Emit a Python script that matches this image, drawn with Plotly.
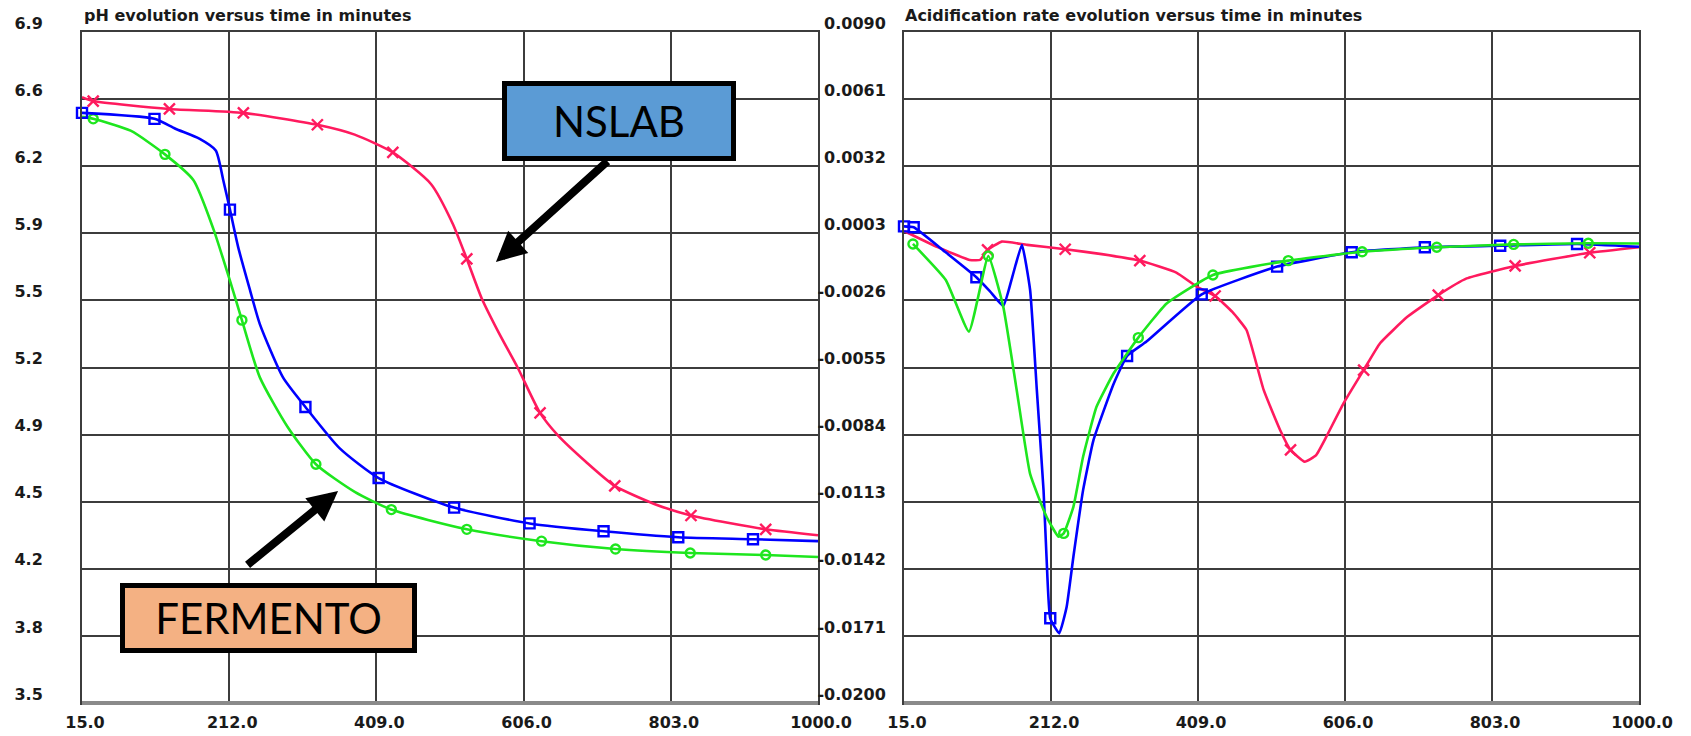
import plotly.graph_objects as go

# ---------------- data ----------------
# pH evolution (left panel)
ph_red_t = [15, 30, 132, 231, 330, 380, 431, 482, 511, 530, 550, 575, 598, 628, 651, 690, 728, 780, 830, 930, 1000]
ph_red_v = [6.57, 6.55, 6.51, 6.49, 6.43, 6.38, 6.29, 6.13, 5.93, 5.75, 5.55, 5.36, 5.20, 4.97, 4.86, 4.72, 4.60, 4.51, 4.45, 4.38, 4.35]
ph_red_mk = [30, 132, 231, 330, 431, 530, 628, 728, 830, 930]

ph_blue_t = [15, 112, 140, 172, 194, 204, 213, 224, 240, 253, 284, 314, 360, 412, 513, 614, 713, 813, 913, 1000]
ph_blue_v = [6.49, 6.46, 6.41, 6.36, 6.30, 6.15, 6.00, 5.81, 5.59, 5.42, 5.15, 5.00, 4.79, 4.64, 4.49, 4.41, 4.37, 4.34, 4.33, 4.32]
ph_blue_mk = [15, 112, 213, 314, 412, 513, 614, 713, 813, 913]

ph_green_t = [15, 30, 80, 126, 164, 191, 213, 229, 253, 290, 328, 380, 429, 530, 630, 729, 829, 930, 1000]
ph_green_v = [6.47, 6.46, 6.40, 6.28, 6.15, 5.90, 5.64, 5.44, 5.15, 4.90, 4.71, 4.57, 4.48, 4.38, 4.32, 4.28, 4.26, 4.25, 4.24]
ph_green_mk = [30, 126, 229, 328, 429, 530, 630, 729, 829, 930]

# acidification rate (right panel)
ar_red_t = [15, 60, 103, 117, 127, 146, 180, 231, 280, 331, 380, 407, 432, 455, 474, 497, 519, 533, 552, 567, 581, 604, 631, 653, 690, 731, 769, 834, 934, 1000]
ar_red_v = [0.0004, -0.0003, -0.00085, -0.00085, -0.00042, -0.00006, -0.0002, -0.00039, -0.0006, -0.00088, -0.0014, -0.0020, -0.00241, -0.0031, -0.00388, -0.00647, -0.0082, -0.00906, -0.00957, -0.0093, -0.00849, -0.00705, -0.00561, -0.00445, -0.0033, -0.00237, -0.00165, -0.00111, -0.00054, -0.0003]
ar_red_mk = [127, 231, 331, 432, 533, 631, 731, 834, 934]

ar_blue_t = [15, 28, 70, 112, 130, 148, 160, 173, 184, 193, 202, 206, 211, 223, 233, 242, 255, 269, 296, 314, 340, 414, 515, 615, 713, 814, 917, 1000]
ar_blue_v = [0.0006, 0.00056, -0.0005, -0.0016, -0.0022, -0.00284, -0.0016, -0.0002, -0.00215, -0.00647, -0.0108, -0.01368, -0.01634, -0.01699, -0.01584, -0.01368, -0.0108, -0.00863, -0.0062, -0.005, -0.00438, -0.00234, -0.00114, -0.00052, -0.0003, -0.00024, -0.00016, -0.00028]
ar_blue_mk = [15, 28, 112, 211, 314, 414, 515, 615, 713, 814, 917]

ar_green_t = [27, 71, 102, 128, 148, 166, 184, 206, 222, 229, 242, 255, 273, 296, 329, 367, 429, 530, 629, 729, 832, 932, 1000]
ar_green_v = [-0.00016, -0.00172, -0.00395, -0.00068, -0.00287, -0.00647, -0.0101, -0.01195, -0.01281, -0.01267, -0.01152, -0.00936, -0.0072, -0.00575, -0.00421, -0.00273, -0.0015, -0.00088, -0.0005, -0.0003, -0.00018, -0.00013, -0.00014]
ar_green_mk = [27, 128, 229, 329, 429, 530, 629, 729, 832, 932]

# ticks
x_ticks = [15.0, 212.0, 409.0, 606.0, 803.0, 1000.0]
x_ticktext = ["15.0", "212.0", "409.0", "606.0", "803.0", "1000.0"]
ph_ticks = [3.5, 3.84, 4.18, 4.52, 4.86, 5.2, 5.54, 5.88, 6.22, 6.56, 6.9]
ph_ticktext = ["3.5", "3.8", "4.2", "4.5", "4.9", "5.2", "5.5", "5.9", "6.2", "6.6", "6.9"]
ar_ticks = [-0.02, -0.0171, -0.0142, -0.0113, -0.0084, -0.0055, -0.0026, 0.0003, 0.0032, 0.0061, 0.009]
ar_ticktext = ["-0.0200", "-0.0171", "-0.0142", "-0.0113", "-0.0084", "-0.0055", "-0.0026", "0.0003", "0.0032", "0.0061", "0.0090"]

titles = ["pH evolution versus time in minutes", "Acidification rate evolution versus time in minutes"]
labels = ["NSLAB", "FERMENTO"]

# ---------------- styling ----------------
RED = "#FF1A5E"
BLUE = "#0000FF"
GREEN = "#1EE61E"
GRID = "#3c3c3c"
TICKFONT = dict(family="DejaVu Sans", size=16, color="#1a1a1a", weight="bold")

fig = go.Figure()


def add_series(t, v, mk, color, symbol, size, xa, ya, smooth):
    fig.add_trace(go.Scatter(
        x=t, y=v, mode="lines", xaxis=xa, yaxis=ya,
        line=dict(color=color, width=2.6, shape="spline", smoothing=smooth),
        showlegend=False, hoverinfo="skip"))
    lookup = dict(zip(t, v))
    fig.add_trace(go.Scatter(
        x=mk, y=[lookup[m] for m in mk], mode="markers", xaxis=xa, yaxis=ya,
        marker=dict(symbol=symbol, size=size, color=color,
                    line=dict(color=color, width=2.4)),
        cliponaxis=False, showlegend=False, hoverinfo="skip"))


add_series(ph_green_t, ph_green_v, ph_green_mk, GREEN, "circle-open", 9, "x", "y", 0.6)
add_series(ph_blue_t, ph_blue_v, ph_blue_mk, BLUE, "square-open", 10, "x", "y", 0.6)
add_series(ph_red_t, ph_red_v, ph_red_mk, RED, "x-thin-open", 11, "x", "y", 0.6)

add_series(ar_red_t, ar_red_v, ar_red_mk, RED, "x-thin-open", 11, "x2", "y2", 0.4)
add_series(ar_blue_t, ar_blue_v, ar_blue_mk, BLUE, "square-open", 10, "x2", "y2", 0.4)
add_series(ar_green_t, ar_green_v, ar_green_mk, GREEN, "circle-open", 9, "x2", "y2", 0.4)

W, H = 1691, 736
left_dom = [82 / W, 818 / W]
right_dom = [904 / W, 1639 / W]
y_dom = [1 - 703 / H, 1 - 32 / H]

xcommon = dict(range=[15, 1000], tickvals=x_ticks, ticktext=x_ticktext,
               showgrid=True, gridcolor=GRID, gridwidth=2,
               showline=True, linecolor=GRID, linewidth=2, mirror=True,
               ticks="", tickfont=TICKFONT, zeroline=False, automargin=False,
               ticklabelstandoff=4, ticklabelshift=3, fixedrange=True)
ycommon = dict(showgrid=True, gridcolor=GRID, gridwidth=2,
               showline=True, linecolor=GRID, linewidth=2, mirror=True,
               ticks="", tickfont=TICKFONT, zeroline=False, automargin=False,
               ticklabelshift=-9, fixedrange=True)

fig.update_layout(
    width=W, height=H,
    margin=dict(l=0, r=0, t=0, b=0, autoexpand=False),
    paper_bgcolor="white", plot_bgcolor="white",
    xaxis=dict(domain=left_dom, anchor="y", **xcommon),
    yaxis=dict(domain=y_dom, anchor="x", range=[3.5, 6.9], tickvals=ph_ticks,
               ticktext=ph_ticktext, ticklabelstandoff=34, **ycommon),
    xaxis2=dict(domain=right_dom, anchor="y2", **xcommon),
    yaxis2=dict(domain=y_dom, anchor="x2", range=[-0.02, 0.009], tickvals=ar_ticks,
                ticktext=ar_ticktext, ticklabelstandoff=13, **ycommon),
)

# thicker grey bottom axis band, as in the original software
for xr, yr in (("x domain", "y domain"), ("x2 domain", "y2 domain")):
    fig.add_shape(type="line", xref=xr, yref=yr, x0=0, x1=1, y0=0, y1=0,
                  line=dict(color="#8a8a8a", width=4), layer="above")

title_font = dict(family="DejaVu Sans", size=16, color="#1a1a1a", weight="bold")
fig.add_annotation(text=titles[0], xref="paper", yref="paper", x=82 / W, y=1 - 16 / H,
                   xanchor="left", yanchor="middle", showarrow=False, font=title_font)
fig.add_annotation(text=titles[1], xref="paper", yref="paper", x=903 / W, y=1 - 16 / H,
                   xanchor="left", yanchor="middle", showarrow=False, font=title_font)

# label boxes
box_font = dict(family="Lato", size=42, color="black")
fig.add_annotation(text=labels[0], xref="x", yref="y", x=734, y=6.449,
                   showarrow=False, font=box_font, bgcolor="#5B9BD5",
                   bordercolor="black", borderwidth=5, borderpad=0,
                   width=224, height=70, align="center", valign="middle")
fig.add_annotation(text=labels[1], xref="x", yref="y", x=264.4, y=3.929,
                   showarrow=False, font=box_font, bgcolor="#F4B183",
                   bordercolor="black", borderwidth=5, borderpad=0,
                   width=287, height=60, align="center", valign="middle")

# arrows
fig.add_annotation(text="", xref="x", yref="y", x=569, y=5.735, ax=113, ay=-102,
                   showarrow=True, arrowhead=2, arrowwidth=8, arrowsize=0.75,
                   arrowcolor="black")
fig.add_annotation(text="", xref="x", yref="y", x=357.7, y=4.574, ax=-92, ay=75,
                   showarrow=True, arrowhead=2, arrowwidth=8, arrowsize=0.75,
                   arrowcolor="black")

fig.write_html(
    "out.html",
    config={"displayModeBar": False},
    post_script="document.body.style.margin='0px';"
                "document.documentElement.style.overflow='hidden';",
)
